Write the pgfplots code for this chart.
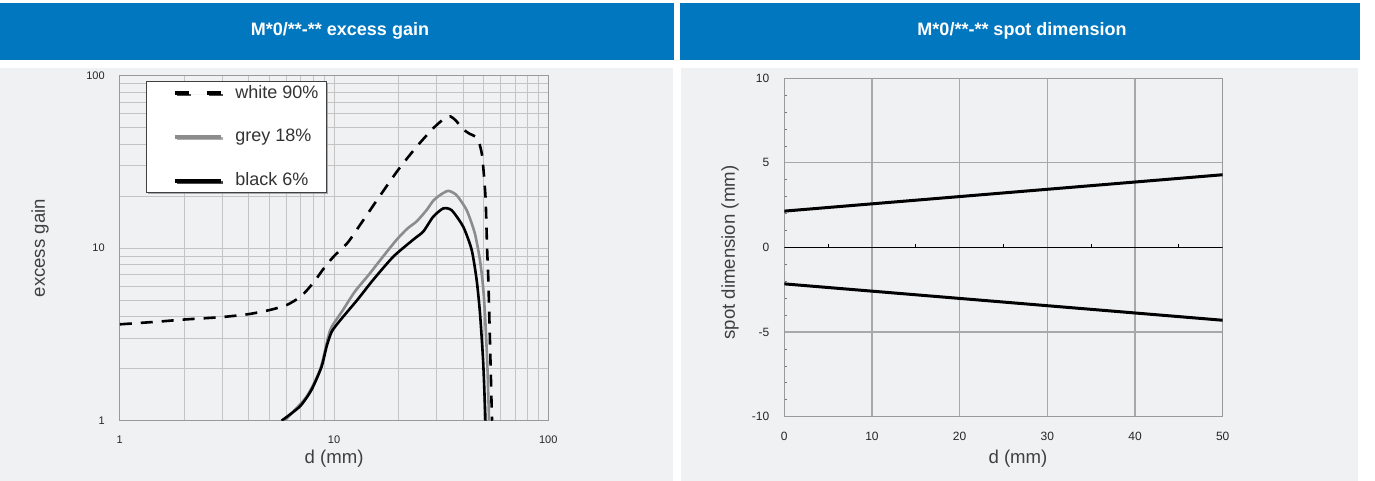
\documentclass[border=0pt]{standalone}
\usepackage{fontspec}
\setmainfont{Liberation Sans}
\usepackage{pgfplots}
\pgfplotsset{compat=1.18}
\usetikzlibrary{shadows}

\definecolor{hdr}{HTML}{0077BF}
\definecolor{panel}{HTML}{F0F1F3}
\definecolor{gridl}{HTML}{C4C4C4}
\definecolor{framel}{HTML}{9A9A9A}
\definecolor{gridr}{HTML}{A8A8A8}
\definecolor{greyline}{HTML}{8C8C8C}

\begin{document}
\begin{tikzpicture}
\useasboundingbox (0,0) rectangle (687.5pt,240.5pt);
\fill[white] (0,0) rectangle (687.5pt,240.5pt);
% header bands and panels
\fill[hdr] (0,210.5pt) rectangle (337pt,239pt);
\fill[hdr] (340pt,210.5pt) rectangle (680pt,239pt);
\fill[panel] (0,0) rectangle (336.5pt,206.7pt);
\fill[panel] (340.5pt,0) rectangle (679pt,206.7pt);
\node[white,font=\bfseries\fontsize{9}{10}\selectfont] at (170pt,225pt) {M*0/**-** excess gain};
\node[white,font=\bfseries\fontsize{9}{10}\selectfont] at (511pt,225pt) {M*0/**-** spot dimension};

% ---- left: excess gain
\begin{axis}[
  at={(59.9pt,30.15pt)}, anchor=south west,
  scale only axis, width=214.25pt, height=172.5pt,
  xmode=log, ymode=log,
  xmin=1, xmax=100, ymin=1, ymax=100,
  xtick={1,10,100}, xticklabels={1,10,100},
  ytick={1,10,100}, yticklabels={1,10,100},
  minor xtick={2,3,...,9,20,30,...,90},
  minor ytick={2,3,...,9,20,30,...,90},
  grid=both,
  major grid style={gridl, line width=0.5pt},
  minor grid style={gridl, line width=0.5pt},
  axis line style={framel, line width=0.6pt},
  major tick length=0pt, minor tick length=0pt,
  tick label style={font=\fontsize{5.5}{6}\selectfont, text=black!85},
  xticklabel style={yshift=-4pt},
  yticklabel style={xshift=-4pt},
  xlabel={d (mm)}, ylabel={excess gain},
  label style={font=\fontsize{9.3}{10}\selectfont, text=black!75},
  xlabel style={at={(axis description cs:0.5,-0.111)}, anchor=center},
  ylabel style={at={(axis description cs:-0.186,0.5)}, anchor=center},
  legend cell align=left,
  legend style={at={(axis description cs:0.0604,0.9855)}, anchor=north west,
    draw=black!75, line width=0.5pt, fill=white,
    font=\fontsize{9}{10}\selectfont, text=black!80,
    inner xsep=2pt, inner ysep=0pt, row sep=10pt,
    /tikz/every odd column/.append style={column sep=4pt},
    drop shadow={shadow xshift=0.8pt, shadow yshift=-0.8pt, fill=black!45, opacity=0.7}},
  legend image code/.code={\path (0pt,0pt); \draw[#1, line width=2pt] (12pt,0pt) -- (34.9pt,0pt);},
]
\addplot[black, line width=1.3pt, dash pattern=on 6pt off 4.5pt, smooth, tension=0.4,
  legend image post style={dash pattern=on 7pt off 8.9pt}] coordinates {
  (1,3.62) (1.5,3.75) (2,3.86) (3,3.99) (4,4.15) (5,4.38) (6,4.68) (7,5.25)
  (8,6.3) (9,7.7) (10,9.0) (11.6,10.8) (13.2,13.6) (16,19.3) (19.9,28.4)
  (24.3,38.8) (29,49.5) (33,57) (35,58) (37,55) (40,49) (43,46) (45.5,44.5)
  (47.5,41) (49,35) (50,27) (51,19) (51.8,10) (52.5,6.5) (53.5,2.7) (54.5,1.1) (54.7,1.0)};
\addlegendentry{white 90\%}
\addplot[greyline, line width=1.3pt, smooth, tension=0.4] coordinates {
  (5.9,1.0) (6.1,1.05) (7.45,1.38) (8.6,1.97) (9.4,3.07) (9.75,3.5) (11,4.38)
  (12.5,5.6) (14.5,7.0) (17,9.0) (19.6,11.2) (22,13) (24.3,14.3) (27,16.6)
  (29,18.8) (31.2,20.3) (34.1,21.5) (37.3,20.3) (41.6,16.6) (45.4,12.2)
  (48,8.5) (49.6,6.0) (50.6,4.2) (51.9,2.15) (52.9,1.0)};
\addlegendentry{grey 18\%}
\addplot[black, line width=1.3pt, smooth, tension=0.4] coordinates {
  (5.69,1.0) (6.93,1.21) (7.85,1.51) (8.75,2.06) (9.23,2.69) (9.75,3.28)
  (10.7,3.83) (12.9,5.05) (15.2,6.54) (18.9,8.93) (23.4,11.2) (26.1,12.5)
  (29,15.2) (32.3,17.0) (35.4,16.6) (40.1,13.3) (43.9,9.77) (46.3,6.54)
  (48,4.19) (49.7,2.15) (50.9,1.0)};
\addlegendentry{black 6\%\rule[-7pt]{0pt}{7pt}}
\end{axis}

% ---- right: spot dimension
\begin{axis}[
  at={(392.15pt,32.15pt)}, anchor=south west,
  scale only axis, width=219.2pt, height=169.2pt,
  xmin=0, xmax=50, ymin=-10, ymax=10,
  xtick={0,10,...,50}, ytick={-10,-5,0,5,10},
  minor y tick num=4,
  xtick pos=bottom, ytick pos=left,
  grid=major,
  major grid style={gridr, line width=0.6pt},
  axis line style={framel, line width=0.6pt},
  major tick length=0pt, minor tick length=1.2pt, tick align=inside,
  minor tick style={black!55, line width=0.4pt},
  /pgf/number format/assume math mode=true,
  tick label style={font=\fontsize{6}{7}\selectfont, text=black!85},
  xticklabel style={yshift=-4pt},
  yticklabel style={xshift=-4pt},
  xlabel={d (mm)}, ylabel={spot dimension (mm)},
  label style={font=\fontsize{9.3}{10}\selectfont, text=black!75},
  xlabel style={at={(axis description cs:0.533,-0.123)}, anchor=center},
  ylabel style={at={(axis description cs:-0.124,0.485)}, anchor=center},
]
\draw[black, line width=0.6pt] (axis cs:0,0) -- (axis cs:50,0);
\pgfplotsinvokeforeach{5,15,25,35,45}{\draw[black, line width=0.5pt] (axis cs:#1,0) -- ++(0pt,1.5pt);}
\addplot[black, line width=1.5pt] coordinates {(0,2.15) (50,4.3)};
\addplot[black, line width=1.5pt] coordinates {(0,-2.15) (50,-4.3)};
\end{axis}
\end{tikzpicture}
\end{document}
